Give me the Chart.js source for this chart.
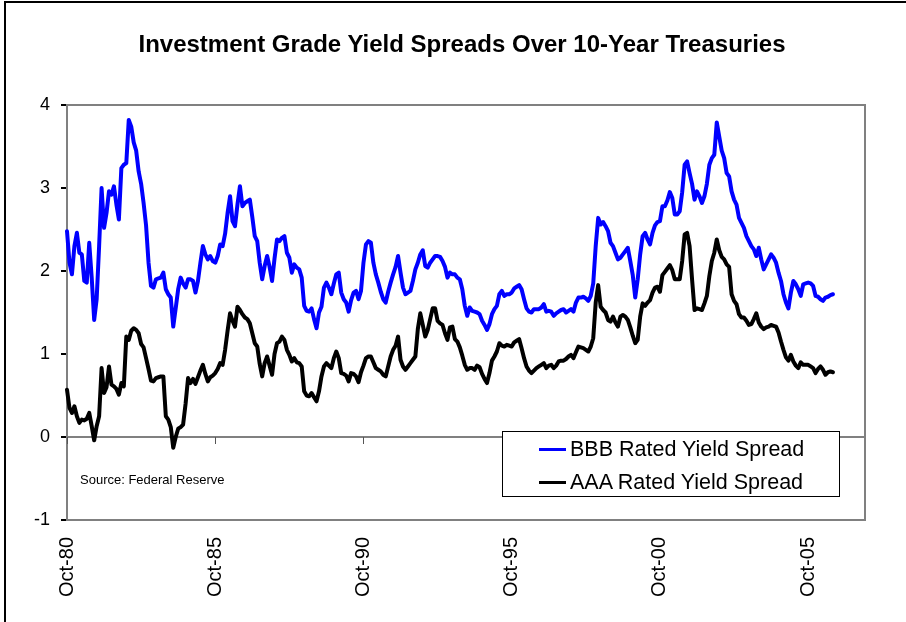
<!DOCTYPE html>
<html>
<head>
<meta charset="utf-8">
<script src="https://cdn.jsdelivr.net/npm/chart.js@4.4.1/dist/chart.umd.min.js"></script>
<style>
  body { margin: 0; background: #fff; font-family: "Liberation Sans", Arial, sans-serif; }
  #wrap { position: relative; width: 906px; height: 622px; overflow: hidden; }
  #frame { position: absolute; left: 4px; top: 1px; width: 920px; height: 640px;
           border-top: 2px solid #000; border-left: 2px solid #000; }
  #title { position: absolute; left: 0; top: 30px; width: 924px; text-align: center;
           font-weight: bold; font-size: 24px; line-height: 28px; color: #000; }
  #source { position: absolute; left: 80px; top: 472px; font-size: 13px; color: #000; }
  #legend { position: absolute; left: 502px; top: 431px; width: 338px; height: 66px;
            box-sizing: border-box; border: 1px solid #000; background: #fff; }
  .row { position: absolute; left: 36px; height: 26px; display: flex; align-items: center;
         font-size: 21.5px; color: #000; white-space: nowrap; }
  .swatch { width: 27px; height: 3px; margin-right: 4px; }
  canvas { position: absolute; left: 0; top: 0; }
</style>
</head>
<body>
<div id="wrap">
  <canvas id="spreadChart" width="906" height="622"></canvas>
  <div id="frame"></div>
  <div id="title">Investment Grade Yield Spreads Over 10-Year Treasuries</div>
  <div id="source">Source: Federal Reserve</div>
  <div id="legend"></div>
</div>
<script>
const seriesNames = ['BBB Rated Yield Spread', 'AAA Rated Yield Spread'];
const seriesColors = ['#0000ff', '#000000'];
const tickLabels = ['Oct-80', 'Oct-85', 'Oct-90', 'Oct-95', 'Oct-00', 'Oct-05'];

// monthly, Oct-80 .. Aug-06
const bbbSpread = [
  2.48, 2.10, 1.96, 2.30, 2.46, 2.22, 2.20, 1.88, 1.86, 2.34,
  1.92, 1.41, 1.66, 2.30, 3.00, 2.52, 2.70, 2.96, 2.92, 3.02,
  2.80, 2.62, 3.24, 3.28, 3.30, 3.82, 3.74, 3.55, 3.45, 3.20,
  3.05, 2.82, 2.55, 2.10, 1.82, 1.80, 1.90, 1.91, 1.92, 1.98,
  1.78, 1.72, 1.68, 1.33, 1.55, 1.78, 1.92, 1.85, 1.80, 1.90,
  1.90, 1.88, 1.74, 1.88, 2.10, 2.30, 2.20, 2.14, 2.18, 2.12,
  2.10, 2.18, 2.32, 2.30, 2.45, 2.70, 2.90, 2.60, 2.54, 2.80,
  3.02, 2.78, 2.82, 2.84, 2.86, 2.65, 2.42, 2.36, 2.10, 1.90,
  2.06, 2.18, 2.05, 1.88, 2.15, 2.38, 2.36, 2.40, 2.42, 2.22,
  2.16, 1.98, 2.08, 2.04, 2.02, 1.92, 1.58, 1.52, 1.51, 1.55,
  1.42, 1.31, 1.50, 1.57, 1.80, 1.86, 1.80, 1.72, 1.85, 1.96,
  1.98, 1.74, 1.66, 1.62, 1.51, 1.65, 1.74, 1.76, 1.66, 1.76,
  2.10, 2.32, 2.36, 2.34, 2.10, 1.96, 1.86, 1.75, 1.66, 1.62,
  1.75, 1.86, 1.96, 2.05, 2.18, 1.98, 1.80, 1.72, 1.74, 1.76,
  1.88, 2.02, 2.10, 2.20, 2.25, 2.06, 2.04, 2.10, 2.14, 2.18,
  2.18, 2.17, 2.12, 2.05, 1.92, 1.98, 1.96, 1.96, 1.92, 1.90,
  1.78, 1.58, 1.46, 1.56, 1.52, 1.51, 1.50, 1.48, 1.40, 1.35,
  1.29, 1.36, 1.48, 1.54, 1.58, 1.72, 1.76, 1.70, 1.72, 1.72,
  1.74, 1.79, 1.81, 1.83, 1.78, 1.66, 1.55, 1.51, 1.50, 1.54,
  1.54, 1.54, 1.56, 1.60, 1.51, 1.52, 1.51, 1.46, 1.49, 1.51,
  1.53, 1.54, 1.50, 1.52, 1.54, 1.51, 1.62, 1.68, 1.68, 1.69,
  1.67, 1.64, 1.70, 1.85, 2.30, 2.64, 2.56, 2.59, 2.54, 2.48,
  2.34, 2.30, 2.22, 2.14, 2.16, 2.20, 2.24, 2.28, 2.12, 1.95,
  1.68, 1.90, 2.20, 2.42, 2.46, 2.38, 2.32, 2.46, 2.55, 2.59,
  2.60, 2.78, 2.78, 2.85, 2.95, 2.88, 2.68, 2.68, 2.72, 2.95,
  3.28, 3.32, 3.18, 3.05, 2.86, 2.96, 2.90, 2.82, 2.90, 3.05,
  3.28, 3.36, 3.40, 3.79, 3.62, 3.45, 3.36, 3.18, 3.14, 2.96,
  2.86, 2.80, 2.64, 2.58, 2.52, 2.42, 2.36, 2.30, 2.26, 2.18,
  2.28, 2.14, 2.02, 2.08, 2.14, 2.20, 2.16, 2.10, 1.98, 1.88,
  1.72, 1.62, 1.55, 1.74, 1.88, 1.84, 1.78, 1.70, 1.84, 1.85,
  1.86, 1.85, 1.82, 1.70, 1.69, 1.66, 1.64, 1.68, 1.69, 1.71,
  1.72
];

const aaaSpread = [
  0.57, 0.35, 0.29, 0.37, 0.25, 0.17, 0.21, 0.20, 0.22, 0.29,
  0.13, -0.04, 0.13, 0.25, 0.83, 0.53, 0.60, 0.85, 0.63, 0.61,
  0.58, 0.51, 0.65, 0.61, 1.21, 1.17, 1.28, 1.31, 1.29, 1.25,
  1.12, 1.08, 0.95, 0.82, 0.68, 0.67, 0.71, 0.72, 0.73, 0.73,
  0.25, 0.21, 0.12, -0.13, 0.00, 0.10, 0.12, 0.15, 0.40, 0.71,
  0.65, 0.70, 0.64, 0.72, 0.80, 0.87, 0.76, 0.67, 0.72, 0.74,
  0.77, 0.82, 0.89, 0.87, 1.05, 1.28, 1.49, 1.40, 1.33, 1.57,
  1.53, 1.48, 1.44, 1.42, 1.37, 1.25, 1.13, 1.09, 0.88, 0.73,
  0.89, 0.97, 0.86, 0.75, 1.00, 1.13, 1.15, 1.21, 1.17, 1.05,
  0.99, 0.91, 0.95, 0.90, 0.89, 0.85, 0.55, 0.50, 0.49, 0.53,
  0.48, 0.43, 0.55, 0.73, 0.85, 0.89, 0.86, 0.83, 0.95, 1.03,
  0.95, 0.77, 0.76, 0.74, 0.67, 0.77, 0.76, 0.73, 0.66, 0.78,
  0.86, 0.95, 0.97, 0.97, 0.90, 0.83, 0.81, 0.79, 0.75, 0.73,
  0.85, 0.97, 1.05, 1.10, 1.21, 0.93, 0.85, 0.81, 0.85, 0.89,
  0.93, 0.97, 1.30, 1.49, 1.35, 1.21, 1.29, 1.42, 1.55, 1.55,
  1.40, 1.37, 1.35, 1.25, 1.17, 1.32, 1.33, 1.18, 1.15, 1.08,
  0.98, 0.87, 0.81, 0.83, 0.83, 0.81, 0.86, 0.84, 0.76, 0.70,
  0.65, 0.77, 0.92, 0.97, 1.03, 1.13, 1.10, 1.09, 1.11, 1.10,
  1.09, 1.14, 1.16, 1.18, 1.07, 0.95, 0.85, 0.80, 0.77, 0.80,
  0.83, 0.85, 0.87, 0.89, 0.83, 0.86, 0.87, 0.83, 0.86, 0.91,
  0.92, 0.92, 0.94, 0.97, 0.99, 0.95, 1.02, 1.09, 1.08, 1.07,
  1.05, 1.03, 1.09, 1.19, 1.62, 1.83, 1.57, 1.53, 1.50, 1.41,
  1.39, 1.45, 1.38, 1.33, 1.45, 1.47, 1.45, 1.41, 1.32, 1.22,
  1.13, 1.17, 1.45, 1.61, 1.58, 1.62, 1.65, 1.74, 1.80, 1.81,
  1.75, 1.95, 1.99, 2.03, 2.07, 2.01, 1.90, 1.90, 1.90, 2.12,
  2.44, 2.46, 2.30, 1.90, 1.53, 1.55, 1.54, 1.53, 1.61, 1.70,
  1.94, 2.12, 2.22, 2.38, 2.25, 2.17, 2.14, 2.08, 2.05, 1.72,
  1.64, 1.60, 1.48, 1.44, 1.44, 1.40, 1.35, 1.36, 1.42, 1.49,
  1.38, 1.33, 1.30, 1.32, 1.33, 1.35, 1.34, 1.33, 1.26, 1.15,
  1.05, 0.96, 0.92, 0.99, 0.91, 0.86, 0.83, 0.90, 0.87, 0.87,
  0.87, 0.85, 0.83, 0.77, 0.82, 0.85, 0.81, 0.75, 0.78, 0.79,
  0.78
];

// month categories: the date axis runs past the data to Sep-07
const monthNames = ['Jan','Feb','Mar','Apr','May','Jun','Jul','Aug','Sep','Oct','Nov','Dec'];
const months = [];
for (let i = 0; i < 324; i++) {
  const m = (9 + i) % 12;
  const y = 1980 + Math.floor((9 + i) / 12);
  months.push(monthNames[m] + '-' + String(y % 100).padStart(2, '0'));
}

const FONT = '"Liberation Sans", Arial, sans-serif';

// gray plot-area frame plus the little tick marks on the zero line
const plotFrame = {
  id: 'plotFrame',
  beforeDatasetsDraw(chart) {
    const { ctx, chartArea, scales } = chart;
    ctx.save();
    ctx.strokeStyle = '#808080';
    ctx.lineWidth = 2;
    ctx.strokeRect(chartArea.left, chartArea.top, chartArea.right - chartArea.left, chartArea.bottom - chartArea.top);
    const y0 = scales.y.getPixelForValue(0);
    ctx.strokeStyle = '#555';
    ctx.lineWidth = 1;
    tickLabels.forEach(t => {
      const x = Math.round(scales.x.getPixelForValue(months.indexOf(t))) + 0.5;
      ctx.beginPath();
      ctx.moveTo(x, y0);
      ctx.lineTo(x, y0 + 7);
      ctx.stroke();
    });
    ctx.restore();
  }
};

const chart = new Chart(document.getElementById('spreadChart'), {
  type: 'line',
  data: {
    labels: months,
    datasets: [
      { label: seriesNames[0], data: bbbSpread, borderColor: seriesColors[0], borderWidth: 4 },
      { label: seriesNames[1], data: aaaSpread, borderColor: seriesColors[1], borderWidth: 4 }
    ]
  },
  options: {
    responsive: false,
    animation: false,
    layout: { padding: { top: 105, right: 38, bottom: 0, left: 0 } },
    elements: {
      point: { radius: 0 },
      line: { tension: 0, borderJoinStyle: 'round', borderCapStyle: 'round' }
    },
    plugins: { legend: { display: false }, title: { display: false }, tooltip: { enabled: false } },
    scales: {
      x: {
        grid: { display: false, drawTicks: false },
        border: { display: false },
        afterFit(scale) { scale.height = 102; },
        ticks: {
          autoSkip: false,
          maxRotation: 90,
          minRotation: 90,
          padding: 17,
          color: '#000',
          font: { family: FONT, size: 20 },
          callback(value) {
            const lab = this.getLabelForValue(value);
            return tickLabels.includes(lab) ? lab : '';
          }
        }
      },
      y: {
        min: -1,
        max: 4,
        afterFit(scale) { scale.width = 67; },
        ticks: { stepSize: 1, padding: 11, color: '#000', font: { family: FONT, size: 18 } },
        border: { color: '#000', width: 2 },
        grid: {
          color: ctx => ctx.tick && ctx.tick.value === 0 ? '#808080' : 'rgba(0,0,0,0)',
          lineWidth: 2,
          tickColor: '#000',
          tickLength: 6
        }
      }
    }
  },
  plugins: [plotFrame]
});

// legend box drawn from the dataset names and colours
const legendBox = document.getElementById('legend');
seriesNames.forEach((name, i) => {
  const row = document.createElement('div');
  row.className = 'row';
  row.style.top = (4 + i * 33) + 'px';
  const sw = document.createElement('span');
  sw.className = 'swatch';
  sw.style.background = seriesColors[i];
  row.appendChild(sw);
  row.appendChild(document.createTextNode(name));
  legendBox.appendChild(row);
});
</script>
</body>
</html>
